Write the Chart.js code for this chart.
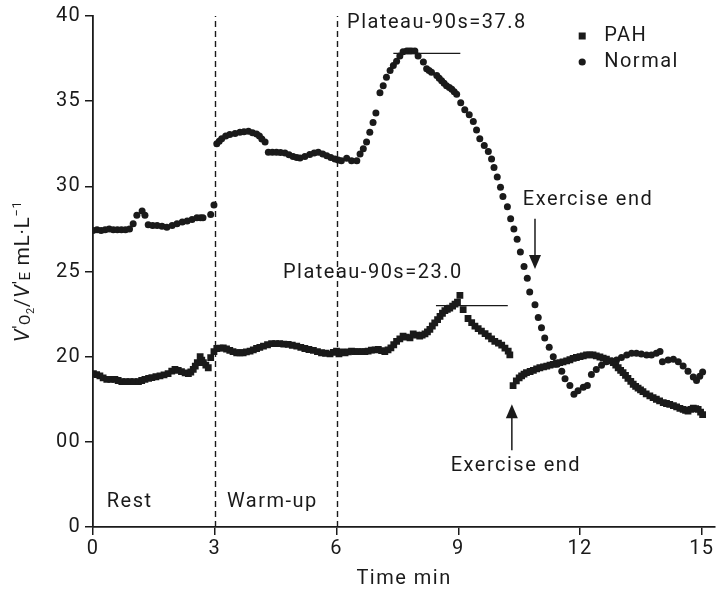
<!DOCTYPE html>
<html>
<head>
<meta charset="utf-8">
<script src="https://cdn.jsdelivr.net/npm/chart.js@4.4.1/dist/chart.umd.min.js"></script>
<style>
  html, body { margin: 0; padding: 0; background: #fff; }
  #wrap { width: 720px; height: 594px; }
</style>
</head>
<body>
<div id="wrap"><canvas id="vo2Chart"></canvas></div>
<script>
// values (time in min, VO2/VE in mL/L)
const pahTime = [0.01, 0.09, 0.17, 0.25, 0.34, 0.44, 0.54, 0.62, 0.71, 0.81, 0.91, 1.01, 1.12, 1.2, 1.28, 1.37, 1.45, 1.55, 1.65, 1.75, 1.85, 1.94, 2.02, 2.1, 2.18, 2.27, 2.35, 2.41, 2.47, 2.52, 2.57, 2.64, 2.68, 2.72, 2.78, 2.84, 2.9,
  2.98, 3.05, 3.13, 3.21, 3.29, 3.37, 3.45, 3.54, 3.62, 3.7, 3.78, 3.87, 3.95, 4.03, 4.11, 4.2, 4.3, 4.4, 4.5, 4.6, 4.7, 4.81, 4.91, 5.02, 5.12, 5.22, 5.32, 5.43, 5.53, 5.63, 5.73, 5.84, 5.92,
  6.0, 6.06, 6.13, 6.21, 6.29, 6.37, 6.45, 6.53, 6.62, 6.7, 6.78, 6.86, 6.95, 7.03, 7.11, 7.19, 7.27, 7.34, 7.41, 7.48, 7.56, 7.64, 7.72, 7.81, 7.89, 7.97, 8.05, 8.11, 8.18, 8.24, 8.3, 8.36, 8.42, 8.49, 8.55, 8.61, 8.67, 8.73, 8.79, 8.86, 8.92, 8.98,
  9.04, 9.12, 9.24, 9.33, 9.41, 9.49, 9.57, 9.66, 9.74, 9.82, 9.9, 9.99, 10.07, 10.15, 10.23, 10.27,
  10.35, 10.43, 10.5, 10.56, 10.62, 10.68, 10.77, 10.85, 10.93, 11.01, 11.1, 11.18, 11.26, 11.34, 11.42, 11.5, 11.58, 11.67, 11.75, 11.83, 11.91, 12.0, 12.08, 12.16, 12.24, 12.32, 12.4, 12.49, 12.57, 12.65, 12.73, 12.82, 12.88, 12.94, 13.0, 13.06, 13.12, 13.18, 13.25, 13.31, 13.37, 13.43, 13.49, 13.55, 13.63, 13.72, 13.8, 13.88, 13.96, 14.05, 14.13, 14.21, 14.3, 14.38, 14.46, 14.54, 14.6, 14.66, 14.73, 14.79, 14.85, 14.91, 14.97, 15.02];
const pahValue = [19.0, 18.95, 18.87, 18.75, 18.67, 18.67, 18.67, 18.6, 18.54, 18.54, 18.54, 18.54, 18.54, 18.6, 18.67, 18.72, 18.77, 18.82, 18.87, 18.93, 19.0, 19.15, 19.26, 19.2, 19.12, 19.05, 19.0, 19.1, 19.26, 19.45, 19.65, 20.0, 19.8, 19.65, 19.5, 19.35, 19.94,
  20.3, 20.48, 20.5, 20.52, 20.45, 20.37, 20.3, 20.23, 20.23, 20.23, 20.28, 20.33, 20.4, 20.48, 20.55, 20.62, 20.7, 20.76, 20.76, 20.76, 20.74, 20.72, 20.67, 20.62, 20.55, 20.48, 20.42, 20.37, 20.3, 20.23, 20.2, 20.17, 20.25,
  20.33, 20.17, 20.28, 20.23, 20.28, 20.33, 20.3, 20.29, 20.29, 20.29, 20.33, 20.38, 20.4, 20.43, 20.36, 20.29, 20.4, 20.52, 20.7, 20.9, 21.05, 21.2, 21.15, 21.1, 21.34, 21.27, 21.2, 21.27, 21.34, 21.45, 21.6, 21.8, 21.98, 22.18, 22.37, 22.55, 22.7, 22.78, 22.85, 22.97, 23.09, 23.2,
  23.6, 22.76, 22.24, 22.0, 21.79, 21.65, 21.5, 21.35, 21.2, 21.05, 20.9, 20.8, 20.68, 20.5, 20.33, 20.1,
  18.3, 18.58, 18.75, 18.87, 18.97, 19.06, 19.13, 19.2, 19.28, 19.35, 19.4, 19.45, 19.5, 19.55, 19.6, 19.65, 19.7, 19.75, 19.82, 19.9, 19.95, 20.0, 20.05, 20.1, 20.1, 20.1, 20.05, 19.98, 19.92, 19.85, 19.75, 19.65, 19.5, 19.35, 19.2, 19.06, 18.9, 18.73, 18.55, 18.38, 18.25, 18.15, 18.05, 17.95, 17.82, 17.7, 17.6, 17.5, 17.4, 17.3, 17.25, 17.2, 17.12, 17.05, 16.97, 16.9, 16.85, 16.8, 16.9, 16.98, 16.95, 16.9, 16.75, 16.6];

const normalTime = [0.0, 0.1, 0.2, 0.3, 0.4, 0.5, 0.6, 0.7, 0.8, 0.9, 0.99, 1.08, 1.21, 1.28, 1.36, 1.47, 1.58, 1.7, 1.82, 1.95, 2.07, 2.2, 2.32, 2.44, 2.56, 2.65, 2.71, 2.9, 2.98,
  3.05, 3.11, 3.17, 3.27, 3.37, 3.5, 3.62, 3.72, 3.83, 3.93, 4.03, 4.1, 4.16, 4.24, 4.32, 4.42, 4.52, 4.62, 4.73, 4.83, 4.93, 5.02, 5.1, 5.22, 5.34, 5.45, 5.55, 5.66, 5.76, 5.86, 5.96,
  6.04, 6.12, 6.25, 6.37, 6.5, 6.58, 6.66, 6.74, 6.82, 6.9, 6.97, 7.07, 7.15, 7.23, 7.32, 7.4, 7.48, 7.56, 7.64, 7.73, 7.79, 7.85, 7.93, 8.01, 8.14, 8.22, 8.28, 8.34, 8.47, 8.53, 8.59, 8.65, 8.71, 8.78, 8.84, 8.9, 8.96,
  9.06, 9.16, 9.27, 9.37, 9.45, 9.53, 9.64, 9.74, 9.82, 9.88, 9.96, 10.04, 10.1, 10.21, 10.29, 10.37, 10.45, 10.53, 10.62, 10.7, 10.76, 10.89, 10.97, 11.05, 11.13, 11.24, 11.34, 11.44, 11.55, 11.63, 11.75, 11.85, 11.95,
  12.08, 12.18, 12.28, 12.4, 12.53, 12.65, 12.78, 12.9, 13.02, 13.15, 13.27, 13.39, 13.51, 13.64, 13.76, 13.88, 13.97, 14.03, 14.17, 14.3, 14.42, 14.54, 14.66, 14.79, 14.87, 14.95, 15.02];
const normalValue = [27.4, 27.45, 27.4, 27.45, 27.5, 27.45, 27.45, 27.45, 27.45, 27.5, 27.8, 28.3, 28.55, 28.3, 27.75, 27.7, 27.7, 27.65, 27.6, 27.7, 27.8, 27.9, 27.97, 28.05, 28.15, 28.15, 28.15, 28.35, 28.9,
  32.5, 32.65, 32.8, 32.95, 33.04, 33.1, 33.17, 33.2, 33.23, 33.15, 33.07, 32.95, 32.78, 32.6, 32.0, 32.0, 32.0, 31.98, 31.95, 31.85, 31.75, 31.7, 31.67, 31.75, 31.87, 31.95, 32.0, 31.9, 31.8, 31.7, 31.6,
  31.55, 31.5, 31.65, 31.5, 31.5, 31.9, 32.2, 32.6, 33.17, 33.75, 34.3, 35.5, 35.9, 36.4, 36.8, 37.1, 37.35, 37.65, 37.9, 37.95, 37.95, 37.95, 37.95, 37.65, 37.3, 36.9, 36.8, 36.7, 36.5, 36.35, 36.2, 36.05, 35.9, 35.8, 35.7, 35.55, 35.4,
  34.9, 34.5, 34.2, 33.8, 33.3, 32.8, 32.4, 32.05, 31.6, 31.1, 30.55, 29.95, 29.4, 28.8, 28.1, 27.5, 26.9, 26.15, 25.3, 24.6, 23.8, 23.05, 22.3, 21.7, 21.1, 20.55, 20.0, 19.55, 19.15, 18.7, 18.3, 17.8, 18.0,
  18.2, 18.3, 18.95, 19.25, 19.5, 19.7, 19.75, 19.8, 19.95, 20.1, 20.2, 20.2, 20.15, 20.1, 20.1, 20.2, 20.3, 19.7, 19.8, 19.85, 19.7, 19.45, 19.15, 18.8, 18.6, 18.85, 19.1];

const xTicks = [0, 3, 6, 9, 12, 15];
const yTickValues = [10, 15, 20, 25, 30, 35, 40];
const yTickLabels = ['0', '00', '20', '25', '30', '35', '40'];

const phaseLines = [3, 6];
const phaseNames = ['Rest', 'Warm-up'];
const phaseNameX = [0.34, 3.3];
const plateauValues = [37.8, 23.0];
const plateauFrom = [7.4, 8.45];
const plateauTo = [9.05, 10.22];
const plateauTextX = [6.26, 4.68];
const plateauTextY = [39.6, 24.9];
const exerciseEndX = [10.89, 10.32];

const FONT = 'Roboto, "DejaVu Sans", sans-serif';
const INK = '#1a1a1a';

function toPoints(xs, ys) {
    return xs.map((x, i) => ({ x: x, y: ys[i] }));
}

function arrow(ctx, x, y0, y1) {
    // shaft from y0 to tip at y1
    const dir = y1 > y0 ? 1 : -1;
    ctx.beginPath();
    ctx.moveTo(x, y0);
    ctx.lineTo(x, y1 - dir * 12);
    ctx.stroke();
    ctx.beginPath();
    ctx.moveTo(x, y1);
    ctx.lineTo(x - 6, y1 - dir * 14);
    ctx.lineTo(x + 6, y1 - dir * 14);
    ctx.closePath();
    ctx.fill();
}

function drawYTitle(ctx, cx, cy) {
    const parts = [
        { t: 'V', f: 'italic 21px ' + FONT, dy: 0 },
        { t: '\u2032', f: '19px ' + FONT, dy: -3 },
        { t: 'O', f: '15px ' + FONT, dy: 1 },
        { t: '2', f: '11px ' + FONT, dy: 5 },
        { t: '/', f: '21px ' + FONT, dy: 0 },
        { t: 'V', f: 'italic 21px ' + FONT, dy: 0 },
        { t: '\u2032', f: '19px ' + FONT, dy: -3 },
        { t: 'E', f: '15px ' + FONT, dy: 1 },
        { t: ' mL\u00b7L', f: '21px ' + FONT, dy: 0 },
        { t: '\u22121', f: '13px ' + FONT, dy: -8 },
    ];
    let total = 0;
    parts.forEach(p => { ctx.font = p.f; p.w = ctx.measureText(p.t).width; total += p.w; });
    ctx.save();
    ctx.translate(cx, cy);
    ctx.rotate(-Math.PI / 2);
    ctx.textBaseline = 'alphabetic';
    ctx.textAlign = 'left';
    let x = -total / 2;
    parts.forEach(p => {
        ctx.font = p.f;
        ctx.fillText(p.t, x, 7 + p.dy);
        x += p.w;
    });
    ctx.restore();
}

const spacing = {
    id: 'spacing',
    beforeInit(chart) { chart.ctx.letterSpacing = '1.2px'; },
    beforeDraw(chart) { chart.ctx.letterSpacing = '1.2px'; },
};

const annotations = {
    id: 'annotations',
    afterDatasetsDraw(chart) {
        const ctx = chart.ctx;
        const xs = chart.scales.x;
        const ys = chart.scales.y;
        const area = chart.chartArea;
        ctx.save();
        ctx.strokeStyle = INK;
        ctx.fillStyle = INK;
        ctx.letterSpacing = '1.5px';

        // phase boundaries
        ctx.lineWidth = 1.4;
        ctx.setLineDash([6, 4]);
        phaseLines.forEach(v => {
            const px = Math.round(xs.getPixelForValue(v)) + 0.5;
            ctx.beginPath();
            ctx.moveTo(px, area.bottom);
            ctx.lineTo(px, area.top);
            ctx.stroke();
        });
        ctx.setLineDash([]);

        ctx.font = '20px ' + FONT;
        ctx.textBaseline = 'middle';
        ctx.textAlign = 'left';
        phaseNames.forEach((name, i) => {
            ctx.fillText(name, xs.getPixelForValue(phaseNameX[i]), ys.getPixelForValue(11.45));
        });

        // plateau lines
        ctx.lineWidth = 1.3;
        plateauValues.forEach((v, i) => {
            const py = ys.getPixelForValue(v);
            ctx.beginPath();
            ctx.moveTo(xs.getPixelForValue(plateauFrom[i]), py);
            ctx.lineTo(xs.getPixelForValue(plateauTo[i]), py);
            ctx.stroke();
            ctx.fillText('Plateau-90s=' + v.toFixed(1), xs.getPixelForValue(plateauTextX[i]), ys.getPixelForValue(plateauTextY[i]));
        });

        // exercise end markers
        ctx.lineWidth = 1.5;
        const ax0 = xs.getPixelForValue(exerciseEndX[0]);
        arrow(ctx, ax0, ys.getPixelForValue(28.1), ys.getPixelForValue(25.15));
        ctx.fillText('Exercise end', xs.getPixelForValue(10.59), ys.getPixelForValue(29.2));
        const ax1 = xs.getPixelForValue(exerciseEndX[1]);
        arrow(ctx, ax1, ys.getPixelForValue(14.5), ys.getPixelForValue(17.2));
        ctx.textAlign = 'center';
        ctx.fillText('Exercise end', xs.getPixelForValue(10.42), ys.getPixelForValue(13.57));

        // legend
        const lx = area.right - 133;
        const ly = area.top + 20;
        ctx.fillRect(lx - 3.5, ly - 3.5, 7, 7);
        ctx.beginPath();
        ctx.arc(lx, ly + 26, 3.6, 0, Math.PI * 2);
        ctx.fill();
        ctx.textAlign = 'left';
        ctx.fillText('PAH', lx + 22, ly);
        ctx.fillText('Normal', lx + 22, ly + 26);

        // axis titles
        ctx.letterSpacing = '0.6px';
        drawYTitle(ctx, 22, (area.top + area.bottom) / 2);
        ctx.letterSpacing = '1.5px';
        ctx.font = '20px ' + FONT;
        ctx.textAlign = 'center';
        ctx.fillText('Time min', (area.left + area.right) / 2, 579);
        ctx.restore();
    }
};

new Chart(document.getElementById('vo2Chart'), {
    type: 'scatter',
    data: {
        datasets: [
            {
                label: 'PAH',
                data: toPoints(pahTime, pahValue),
                pointStyle: 'rect',
                pointRadius: 4.8,
                borderWidth: 0,
                backgroundColor: INK,
            },
            {
                label: 'Normal',
                data: toPoints(normalTime, normalValue),
                pointStyle: 'circle',
                pointRadius: 3.5,
                borderWidth: 0,
                backgroundColor: INK,
            },
        ],
    },
    plugins: [spacing, annotations],
    options: {
        responsive: true,
        maintainAspectRatio: false,
        animation: false,
        events: [],
        layout: {
            padding: { top: 13, right: 0, left: 0, bottom: 0 },
        },
        plugins: {
            legend: { display: false },
            tooltip: { enabled: false },
        },
        scales: {
            x: {
                type: 'linear',
                min: 0,
                max: 15.33,
                afterBuildTicks: (scale) => { scale.ticks = xTicks.map(v => ({ value: v })); },
                afterFit: (scale) => { scale.height = 67; },
                ticks: {
                    color: INK,
                    padding: 2,
                    font: { family: FONT, size: 20 },
                    maxRotation: 0,
                },
                grid: {
                    drawOnChartArea: false,
                    drawTicks: true,
                    tickLength: 8,
                    color: INK,
                    lineWidth: 1.5,
                },
                border: { display: true, color: INK, width: 1.8 },
            },
            y: {
                type: 'linear',
                min: 10,
                max: 40,
                afterBuildTicks: (scale) => { scale.ticks = yTickValues.map(v => ({ value: v })); },
                afterFit: (scale) => { scale.width = 93; },
                ticks: {
                    color: INK,
                    padding: 4,
                    font: { family: FONT, size: 20 },
                    callback: (v) => yTickLabels[yTickValues.indexOf(v)],
                },
                grid: {
                    drawOnChartArea: false,
                    drawTicks: true,
                    tickLength: 8,
                    color: INK,
                    lineWidth: 1.5,
                },
                border: { display: true, color: INK, width: 1.8 },
            },
        },
    },
});
</script>
</body>
</html>
